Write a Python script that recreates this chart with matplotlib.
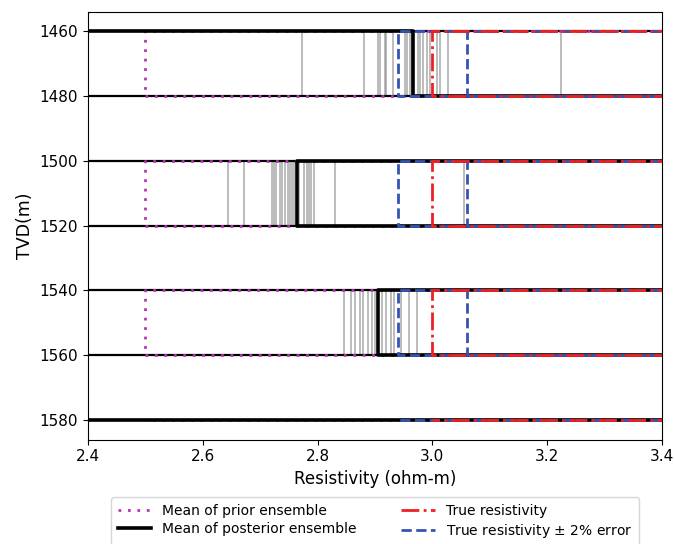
import matplotlib
matplotlib.use("Agg")
import matplotlib.pyplot as plt
import numpy as np

# ---- data ----
layer_tops = [1460, 1500, 1540]
layer_bottoms = [1480, 1520, 1560]
last_boundary = 1580
boundaries = [1460, 1480, 1500, 1520, 1540, 1560, 1580]

prior_mean = [2.5, 2.5, 2.5]
posterior_mean = [2.967, 2.764, 2.905]
true_res = [3.0, 3.0, 3.0]
err_frac = 0.02

ensemble_layer1 = [2.772, 2.881, 2.906, 2.909, 2.918, 2.920, 2.932, 2.952, 2.956,
                   2.961, 2.965, 2.975, 2.979, 2.984, 2.991, 2.995, 3.008, 3.014,
                   3.028, 3.224]
ensemble_layer2 = [2.643, 2.672, 2.720, 2.724, 2.728, 2.734, 2.738, 2.743, 2.748,
                   2.752, 2.755, 2.759, 2.768, 2.777, 2.781, 2.785, 2.789, 2.793,
                   2.831, 3.055]
ensemble_layer3 = [2.846, 2.859, 2.866, 2.874, 2.879, 2.887, 2.894, 2.900, 2.913,
                   2.920, 2.927, 2.933, 2.946, 2.960, 2.973]
ensembles = [ensemble_layer1, ensemble_layer2, ensemble_layer3]

# off-scale background resistivities (outside the shown window)
bg_low = 1.0
bg_high = 10.0

xlim = (2.4, 3.4)
xticks = [2.4, 2.6, 2.8, 3.0, 3.2, 3.4]
yticks = [1460, 1480, 1500, 1520, 1540, 1560, 1580]


def profile(values, top_bg, mid_bg, end_val):
    xs, ys = [], []
    for i, (t, b, v) in enumerate(zip(layer_tops, layer_bottoms, values)):
        xs += [top_bg if i == 0 else mid_bg, v, v, mid_bg]
        ys += [t, t, b, b]
    xs += [mid_bg, end_val]
    ys += [last_boundary, last_boundary]
    return xs, ys


fig = plt.figure(figsize=(6.74, 5.44), dpi=100)
ax = fig.add_axes([0.1306, 0.192, 0.8516, 0.7868])

# ensemble members
for t, b, ens in zip(layer_tops, layer_bottoms, ensembles):
    ax.vlines(ens, t, b, colors="#858585", alpha=0.7, lw=1.1, zorder=1)

# layer boundaries
for yb in boundaries:
    ax.axhline(yb, color="black", lw=1.6, zorder=2)

px, py = profile(prior_mean, bg_high, bg_high, prior_mean[-1])
ax.plot(px, py, color="#b535b5", lw=2.0, linestyle=(0, (1, 2.4)),
        label="Mean of prior ensemble", zorder=3)

mx, my = profile(posterior_mean, bg_low, bg_high, bg_low)
ax.plot(mx, my, color="black", lw=2.6, label="Mean of posterior ensemble", zorder=4)

lo = [v * (1 - err_frac) for v in true_res]
hi = [v * (1 + err_frac) for v in true_res]
lx, ly = profile(lo, bg_high, bg_high, lo[-1])
hx, hy = profile(hi, bg_high, bg_high, hi[-1])
ax.plot(lx, ly, color="#3553b0", lw=2.0, linestyle="--",
        label="True resistivity $\\pm$ 2% error", zorder=5)
ax.plot(hx, hy, color="#3553b0", lw=2.0, linestyle="--", zorder=5)

tx, ty = profile(true_res, bg_high, bg_high, true_res[-1])
ax.plot(tx, ty, color="#ee2020", lw=2.0, linestyle="-.",
        label="True resistivity", zorder=6)

ax.set_xlim(*xlim)
ax.set_ylim(1586, 1454)
ax.set_xticks(xticks)
ax.set_yticks(yticks)
ax.tick_params(labelsize=11)
ax.set_xlabel("Resistivity (ohm-m)", fontsize=12)
ax.set_ylabel("TVD(m)", fontsize=12.5)

h, l = ax.get_legend_handles_labels()
order = [0, 1, 3, 2]
ax.legend([h[i] for i in order], [l[i] for i in order], ncol=2,
          loc="upper center", bbox_to_anchor=(0.5, -0.118), fontsize=10,
          handlelength=2.4, columnspacing=3.2, borderpad=0.5,
          labelspacing=0.3)

fig.savefig("out.png", dpi=100)
